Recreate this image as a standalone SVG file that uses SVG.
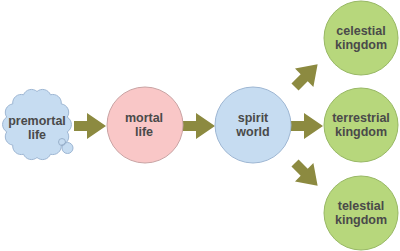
<svg xmlns="http://www.w3.org/2000/svg" width="400" height="251" viewBox="0 0 400 251" xmlns:xlink="http://www.w3.org/1999/xlink">
<style>
.t{font-family:"Liberation Sans",Arial,sans-serif;font-weight:bold;font-size:12.5px;fill:#4a4a4a;text-anchor:middle}
.blue{fill:#c6dcf1;stroke:#9db6d3;stroke-width:1}
.pink{fill:#f9c7c7;stroke:#c9a3a3;stroke-width:1}
.green{fill:#b7d77c;stroke:#98b865;stroke-width:1}
.arr{fill:#8c8a40}
</style>
<defs>
<polygon id="arrow" points="0,-5 13,-5 13,-13 32,0 13,13 13,5 0,5"/>
</defs>
<rect width="400" height="251" fill="#ffffff"/>
<g id="connectors" class="arr">
<use xlink:href="#arrow" transform="translate(74,126)"/>
<use xlink:href="#arrow" transform="translate(183,126)"/>
<use xlink:href="#arrow" transform="translate(291,126)"/>
<use xlink:href="#arrow" transform="translate(295,87) rotate(-45)"/>
<use xlink:href="#arrow" transform="translate(295,163) rotate(45)"/>
</g>
<g id="premortal">
<path class="blue" d="M37,91.5 A8.5,8.5 0 0 1 50.45,94.77 A8.5,8.5 0 0 1 61.24,103.92 A8.5,8.5 0 0 1 67.22,117.16 A8.5,8.5 0 0 1 67.22,131.84 A8.5,8.5 0 0 1 61.24,145.08 A8.5,8.5 0 0 1 50.45,154.23 A8.5,8.5 0 0 1 37,157.5 A8.5,8.5 0 0 1 23.55,154.23 A8.5,8.5 0 0 1 12.76,145.08 A8.5,8.5 0 0 1 6.78,131.84 A8.5,8.5 0 0 1 6.78,117.16 A8.5,8.5 0 0 1 12.76,103.92 A8.5,8.5 0 0 1 23.55,94.77 A8.5,8.5 0 0 1 37,91.5 Z"/>
<circle class="blue" cx="67.5" cy="148" r="5.5"/>
<circle cx="62" cy="142" r="3.5" fill="none" stroke="#8ea6c2" stroke-width="0.8"/>
<text class="t" x="37" y="125">premortal</text>
<text class="t" x="37" y="139">life</text>
</g>
<g id="mortal">
<circle class="pink" cx="145" cy="125" r="38"/>
<text class="t" x="144" y="122">mortal</text>
<text class="t" x="144" y="136">life</text>
</g>
<g id="spirit">
<circle class="blue" cx="253" cy="125" r="38"/>
<text class="t" x="253" y="122">spirit</text>
<text class="t" x="253" y="136">world</text>
</g>
<g id="celestial">
<circle class="green" cx="361" cy="38" r="37"/>
<text class="t" x="361" y="35">celestial</text>
<text class="t" x="361" y="49">kingdom</text>
</g>
<g id="terrestrial">
<circle class="green" cx="361" cy="125" r="37"/>
<text class="t" x="361" y="122">terrestrial</text>
<text class="t" x="361" y="136">kingdom</text>
</g>
<g id="telestial">
<circle class="green" cx="361" cy="213" r="37"/>
<text class="t" x="361" y="210">telestial</text>
<text class="t" x="361" y="224">kingdom</text>
</g>
</svg>
